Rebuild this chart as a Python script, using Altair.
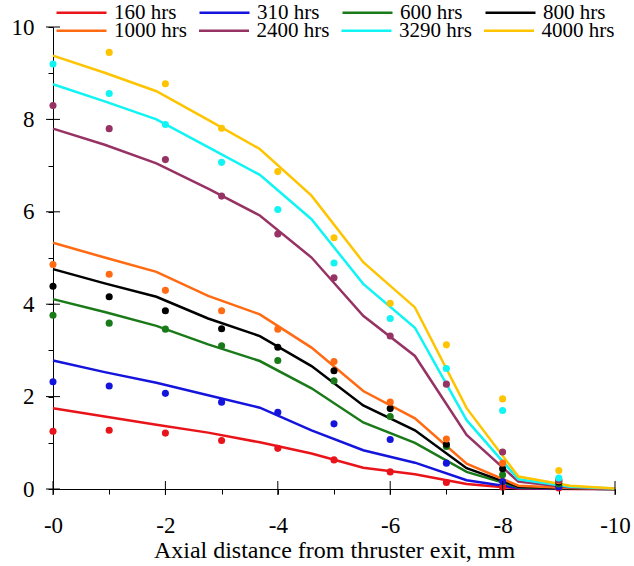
import altair as alt
import pandas as pd

series = ["160 hrs", "310 hrs", "600 hrs", "800 hrs", "1000 hrs", "2400 hrs", "3290 hrs", "4000 hrs"]
colors = ["#e8141a", "#1414dc", "#1a7a1a", "#000000", "#ff6a12", "#963264", "#10f4f4", "#ffc400"]

# model curve vertices (axial distance, mm, as positive numbers; labelled with '-')
line_x = [0, 0.92, 1.84, 2.76, 3.68, 4.6, 5.52, 6.44, 7.36, 8.28, 9.2, 10]
line_160 = [1.75, 1.57, 1.39, 1.22, 1.01, 0.77, 0.46, 0.32, 0.11, 0.01, 0.0, 0.0]
line_310 = [2.78, 2.53, 2.30, 2.03, 1.76, 1.27, 0.84, 0.57, 0.19, 0.02, 0.005, 0.0]
line_600 = [4.11, 3.83, 3.53, 3.13, 2.77, 2.18, 1.44, 1.00, 0.37, 0.04, 0.01, 0.0]
line_800 = [4.76, 4.45, 4.16, 3.69, 3.31, 2.66, 1.81, 1.27, 0.45, 0.05, 0.01, 0.0]
line_1000 = [5.33, 5.01, 4.70, 4.18, 3.78, 3.06, 2.12, 1.53, 0.55, 0.07, 0.02, 0.0]
line_2400 = [7.80, 7.45, 7.05, 6.50, 5.92, 5.01, 3.75, 2.88, 1.17, 0.16, 0.03, 0.0]
line_3290 = [8.76, 8.39, 8.00, 7.40, 6.80, 5.84, 4.44, 3.49, 1.49, 0.21, 0.05, 0.01]
line_4000 = [9.38, 9.01, 8.61, 7.99, 7.36, 6.35, 4.91, 3.93, 1.75, 0.27, 0.07, 0.01]

# measured points
dot_x = [0, 1, 2, 3, 4, 5, 6, 7, 8, 9]
dot_160 = [1.25, 1.27, 1.21, 1.05, 0.88, 0.63, 0.37, 0.14, 0.04, 0.02]
dot_310 = [2.32, 2.23, 2.07, 1.88, 1.66, 1.41, 1.07, 0.56, 0.16, 0.05]
dot_600 = [3.76, 3.59, 3.46, 3.10, 2.78, 2.34, 1.57, 0.92, 0.31, 0.11]
dot_800 = [4.39, 4.16, 3.86, 3.47, 3.07, 2.56, 1.74, 0.97, 0.44, 0.15]
dot_1000 = [4.86, 4.65, 4.30, 3.86, 3.46, 2.76, 1.88, 1.08, 0.56, 0.18]
dot_2400 = [8.30, 7.80, 7.13, 6.34, 5.52, 4.57, 3.31, 2.27, 0.80, 0.20]
dot_3290 = [9.20, 8.56, 7.89, 7.07, 6.05, 4.89, 3.69, 2.61, 1.70, 0.24]
dot_4000 = [None, 9.45, 8.77, 7.81, 6.87, 5.44, 4.02, 3.12, 1.95, 0.40]

major_ticks = [0, 2, 4, 6, 8, 10]
all_ticks = [0, 1, 2, 3, 4, 5, 6, 7, 8, 9, 10]

line_sets = [line_160, line_310, line_600, line_800, line_1000, line_2400, line_3290, line_4000]
dot_sets = [dot_160, dot_310, dot_600, dot_800, dot_1000, dot_2400, dot_3290, dot_4000]

line_rows = []
for s, ys in zip(series, line_sets):
    for xv, yv in zip(line_x, ys):
        line_rows.append({"series": s, "x": xv, "y": yv})
line_df = pd.DataFrame(line_rows)

dot_rows = []
for s, ys in zip(series, dot_sets):
    for xv, yv in zip(dot_x, ys):
        if yv is not None:
            dot_rows.append({"series": s, "x": xv, "y": yv})
dot_df = pd.DataFrame(dot_rows)

tick_df = pd.DataFrame({"x": major_ticks, "y": major_ticks})

W, H = 562, 462
FONT = "'Liberation Serif', 'Times New Roman', Times, serif"

x_scale = alt.Scale(domain=[0, 10], nice=False, zero=False)
y_scale = alt.Scale(domain=[0, 10], nice=False, zero=False)

x_axis = alt.Axis(
    values=all_ticks, tickSize=5, grid=False,
    labelExpr="datum.value % 2 == 0 ? '-' + datum.value : ''",
    labelFont=FONT, labelFontSize=23, labelColor="black",
    labelBaseline="alphabetic", labelPadding=38, labelFlush=False, labelOverlap=False,
    title="Axial distance from thruster exit, mm",
    titleFont=FONT, titleFontSize=24, titleFontWeight="normal", titleColor="black",
    titleBaseline="alphabetic", titleY=68,
    domainColor="black", tickColor="black", domainWidth=1, tickWidth=1,
)
y_axis = alt.Axis(
    values=all_ticks, tickSize=5, grid=False,
    labelExpr="datum.value % 2 == 0 ? datum.label : ''",
    labelFont=FONT, labelFontSize=23, labelColor="black",
    labelPadding=14, labelFlush=False, labelOverlap=False,
    domainColor="black", tickColor="black", domainWidth=1, tickWidth=1,
)

def xenc():
    return alt.X("x:Q", scale=x_scale, axis=x_axis, title="Axial distance from thruster exit, mm")

def yenc():
    return alt.Y("y:Q", scale=y_scale, axis=y_axis, title=None)

def make_legend(y, col_pad):
    return alt.Legend(
        orient="none", legendX=17, legendY=y, columns=4, direction="horizontal",
        title=None, symbolType="M-2.5,0H2.5", symbolSize=400, symbolStrokeWidth=2.5,
        labelFont=FONT, labelFontSize=21, labelColor="black", labelOffset=21,
        labelLimit=300, columnPadding=col_pad, padding=0,
    )

row1, row2 = series[:4], series[4:]
lines_a = alt.Chart(line_df[line_df.series.isin(row1)]).mark_line(strokeWidth=2.5).encode(
    x=xenc(), y=yenc(),
    color=alt.Color("series:N", scale=alt.Scale(domain=row1, range=colors[:4]),
                    sort=row1, legend=make_legend(-26, 17)),
)
lines_b = alt.Chart(line_df[line_df.series.isin(row2)]).mark_line(strokeWidth=2.5).encode(
    x=xenc(), y=yenc(),
    color=alt.Color("series:N", scale=alt.Scale(domain=row2, range=colors[4:]),
                    sort=row2, legend=make_legend(-8, 6.5)),
)

dots = alt.Chart(dot_df).mark_circle(size=50, opacity=1).encode(
    x=xenc(), y=yenc(),
    color=alt.Color("series:N", scale=alt.Scale(domain=series, range=colors), legend=None),
)

yticks = alt.Chart(tick_df).mark_rule(color="black", strokeWidth=1).encode(
    y=yenc(), x=alt.value(-7), x2=alt.value(7),
)
xticks = alt.Chart(tick_df).mark_rule(color="black", strokeWidth=1).encode(
    x=xenc(), y=alt.value(H - 8), y2=alt.value(H + 6),
)

chart = alt.layer(lines_a, lines_b, dots, yticks, xticks).resolve_scale(color="independent").properties(
    width=W, height=H,
    autosize=alt.AutoSizeParams(type="none"),
    padding={"left": 53, "top": 27, "right": 19, "bottom": 77},
    background="white",
).configure_view(stroke=None)

chart.save("out.html", embed_options={"renderer": "svg", "actions": False})
